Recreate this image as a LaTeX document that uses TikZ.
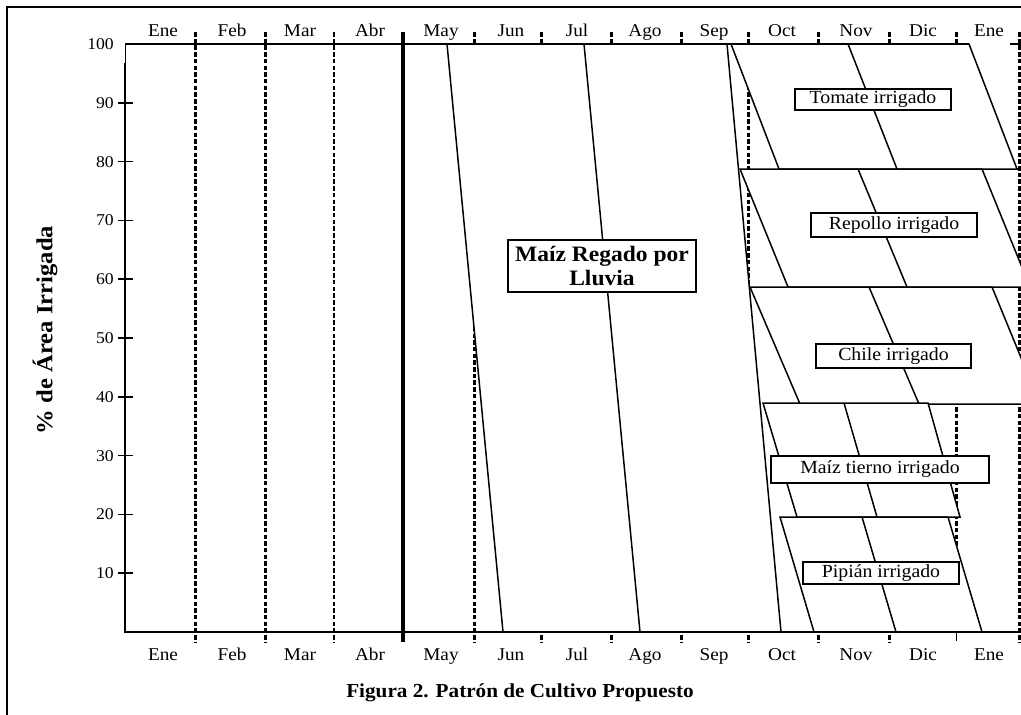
\documentclass[tikz,border=0pt]{standalone}
\usepackage{fontspec}
\setmainfont{Liberation Serif}[FakeStretch=1.07]
\begin{document}
\begin{tikzpicture}[x=1pt,y=-1pt,
  frame/.style={line width=2.8pt},
  axisline/.style={line width=1.8pt},
  griddots/.style={line width=3pt, dash pattern=on 4.5pt off 2.2pt},
  crop/.style={draw=black, fill=white, line width=1.5pt, line join=miter},
  sowline/.style={draw=black, line width=1.5pt},
  cropbox/.style={draw=black, fill=white, line width=1.4pt, inner sep=0pt,
    font=\fontsize{18.5}{21}\selectfont},
  month/.style={font=\fontsize{18}{21}\selectfont, anchor=base},
  ticklabel/.style={font=\fontsize{16.5}{19}\selectfont, anchor=east, inner sep=0pt}
]
\useasboundingbox (0,0) rectangle (1021,715);
\clip (0,0) rectangle (1021,715);

% page frame
\draw[frame] (7,720) -- (7,7) -- (1025,7);

% month boundaries
\foreach \x in {195,265,474,541,611,681,748,818,889,1019}
  \draw[griddots] (\x,32) -- (\x,642);
\draw[griddots, line width=2.2pt] (334,32) -- (334,642);
\draw[griddots] (956,32) -- (956,632);
\draw[line width=1pt] (956,632) -- (956,641);
\draw[line width=3.4pt] (403,32) -- (403,642);

% rain-fed maize
\path[crop] (447,44) -- (727,44) -- (781,632) -- (503,632) -- cycle;
\draw[sowline] (584,44) -- (640,632);

% irrigated crops
\path[crop] (731,44) -- (969,44) -- (1017,169) -- (779,169) -- cycle;
\draw[sowline] (848,44) -- (897,169);
\path[crop] (740,169) -- (982,169) -- (1030,287) -- (788,287) -- cycle;
\draw[sowline] (858,169) -- (907,287);
\draw[sowline] (1017,169) -- (1025,169);
\path[crop] (750,287) -- (992,287) -- (1040,404) -- (800,404) -- cycle;
\draw[sowline] (869,287) -- (919,404);
\path[crop] (763,403) -- (928,403) -- (960,517) -- (797,517) -- cycle;
\draw[sowline] (844,403) -- (877,517);
\path[crop] (780,517) -- (948,517) -- (982,632) -- (814,632) -- cycle;
\draw[sowline] (862,517) -- (896,632);

% axes
\draw[line width=1pt] (125,44) -- (125,63);
\draw[axisline] (125,63) -- (125,632) -- (1019,632);
\draw[line width=1.4pt] (125,44) -- (969,44);
\draw[line width=1.4pt] (1010,44) -- (1025,44);
\foreach \v in {10,20,...,90}
  \draw[line width=1.5pt] (118,632-5.88*\v) -- (133,632-5.88*\v);

% y tick labels
\node[ticklabel] (t100) at (114,44) {100};
\foreach \v in {10,20,...,90}
  \node[ticklabel] (t\v) at (114,632-5.88*\v) {\v};

% month names
\foreach \m [count=\i] in {Ene,Feb,Mar,Abr,May,Jun,Jul,Ago,Sep,Oct,Nov,Dic,Ene}{
  \pgfmathsetmacro\cx{{163,232,300,370,441,511,577,645,714,782,856,923,989}[\i-1]}
  \node[month] (mt\i) at (\cx,36) {\m};
  \node[month] (mb\i) at (\cx,660) {\m};
}

% crop labels
\node[cropbox, minimum width=188pt, minimum height=52pt, align=center,
      font=\fontsize{22}{24.5}\selectfont\bfseries] (maiz) at (602,266)
      {Maíz Regado por\\Lluvia};
\node[cropbox, minimum width=156pt, minimum height=21pt] (tomate) at (873,99.5) {Tomate irrigado};
\node[cropbox, minimum width=166pt, minimum height=24pt] (repollo) at (894,225) {Repollo irrigado};
\node[cropbox, minimum width=155pt, minimum height=24pt] (chile) at (893.5,356) {Chile irrigado};
\node[cropbox, minimum width=218pt, minimum height=27pt] (tierno) at (880,469.5) {Maíz tierno irrigado};
\node[cropbox, minimum width=156pt, minimum height=22pt] (pipian) at (881,573) {Pipián irrigado};

% axis title and caption
\node[rotate=90, font=\fontsize{23}{26}\selectfont\bfseries] (ytitle) at (45,330) {\% de Área Irrigada};
\node[font=\fontsize{19.8}{23}\selectfont\bfseries, anchor=base] (caption) at (520,697)
  {Figura 2. Patrón de Cultivo Propuesto};
\end{tikzpicture}
\end{document}
